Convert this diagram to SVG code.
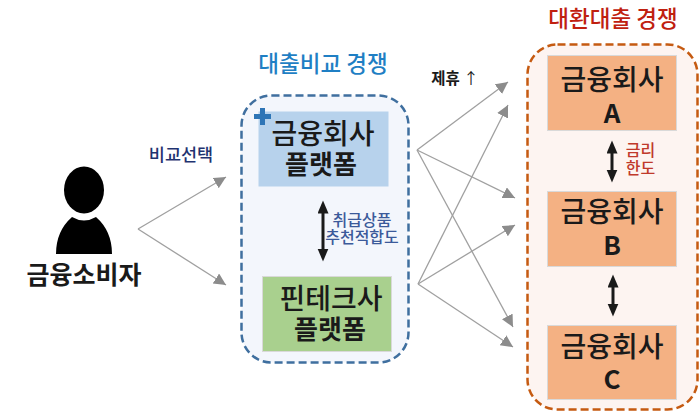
<svg xmlns="http://www.w3.org/2000/svg" width="700" height="412" viewBox="0 0 700 412">
<style>
text{font-family:"Noto Sans CJK KR","Noto Sans",sans-serif;text-anchor:middle;font-weight:700;fill:#1a1a1a}
.big{font-size:28px;font-weight:500}
.mid{font-size:26px}
.box{stroke:#d9d9d9;stroke-width:1}
.conn{stroke:#a0a0a0;stroke-width:1.3;fill:none;marker-end:url(#g)}
.dbl{stroke:#1a1a1a;stroke-width:3;fill:none;marker-start:url(#k);marker-end:url(#k)}
.ann{font-size:16px;font-weight:500}
.title{font-size:22.500px;font-weight:500}
</style>
<defs>
<marker id="g" markerUnits="userSpaceOnUse" markerWidth="14" markerHeight="14" refX="12" refY="6" orient="auto"><path d="M0 0L12 6L0 12Z" fill="#8c8c8c"/></marker>
<marker id="k" markerUnits="userSpaceOnUse" markerWidth="14" markerHeight="12" refX="0.500" refY="5.500" orient="auto-start-reverse"><path d="M0 0L13 5.500L0 11Z" fill="#1a1a1a"/></marker>
</defs>
<rect width="700" height="412" fill="#fff"/>
<g id="consumer">
<ellipse cx="84" cy="190" rx="20" ry="23.500" fill="#000"/>
<path d="M72 217Q84 224 96 217Q112 231 112 254H56Q56 231 72 217Z" fill="#000"/>
<text x="84" y="284" style="font-size:25px">금융소비자</text>
</g>
<g id="compare-group">
<rect x="241.500" y="95.500" width="167" height="267" rx="30" fill="#f3f6fc" stroke="#3f6f9f" stroke-width="2.500" stroke-dasharray="8 4"/>
<text x="323" y="72" class="title" style="fill:#1f7fc4">대출비교 경쟁</text>
</g>
<g id="finance-platform">
<rect x="258.500" y="111.500" width="130" height="75" fill="#b7d2ec"/>
<text x="323" y="144" class="big">금융회사</text>
<text x="321" y="174" class="mid">플랫폼</text>
<path d="M260 108h5v6h6v5h-6v6h-5v-6h-6v-5h6z" fill="#2e75b6"/>
</g>
<g id="fintech-platform">
<rect x="262.500" y="276.500" width="129" height="75" fill="#a9d08e" class="box"/>
<text x="331" y="309" class="big">핀테크사</text>
<text x="330" y="339" class="mid">플랫폼</text>
</g>
<g id="refinance-group">
<rect x="527.500" y="44.500" width="170" height="365" rx="30" fill="#fdf4f1" stroke="#c55a11" stroke-width="2.500" stroke-dasharray="8 4"/>
<text x="613" y="27" class="title" style="fill:#c0200f">대환대출 경쟁</text>
</g>
<g id="company-a">
<rect x="547.500" y="55.500" width="129" height="75" fill="#f4b183" class="box"/>
<text x="612" y="90" class="big">금융회사</text>
<text x="612" y="123" class="mid">A</text>
</g>
<g id="company-b">
<rect x="547.500" y="191.500" width="129" height="75" fill="#f4b183" class="box"/>
<text x="612" y="222" class="big">금융회사</text>
<text x="612" y="255" class="mid">B</text>
</g>
<g id="company-c">
<rect x="547.500" y="325.500" width="129" height="74" fill="#f4b183" class="box"/>
<text x="612" y="357" class="big">금융회사</text>
<text x="612" y="389" class="mid">C</text>
</g>
<g id="connectors">
<path class="conn" d="M138 229L226 177"/>
<path class="conn" d="M138 229L226 285"/>
<path class="conn" d="M417 150L508 82"/>
<path class="conn" d="M417 150L515 198"/>
<path class="conn" d="M417 150L513 327"/>
<path class="conn" d="M418 284L508 105"/>
<path class="conn" d="M418 284L515 225"/>
<path class="conn" d="M418 284L513 347"/>
<path class="dbl" d="M323 213V249"/>
<path class="dbl" d="M612 153V170"/>
<path class="dbl" d="M613 287V304"/>
</g>
<g id="labels">
<text x="181" y="161" style="fill:#1f3370;font-size:17.500px;font-weight:500">비교선택</text>
<text x="455" y="84" style="font-size:15.500px">제휴 <tspan font-weight="400">↑</tspan></text>
<text x="362" y="226" class="ann" style="fill:#3b5a9a">취급상품</text>
<text x="362" y="243" class="ann" style="fill:#3b5a9a">추천적합도</text>
<text x="640.500" y="156" class="ann" style="fill:#c0392b">금리</text>
<text x="640.500" y="174" class="ann" style="fill:#c0392b">한도</text>
</g>
</svg>
